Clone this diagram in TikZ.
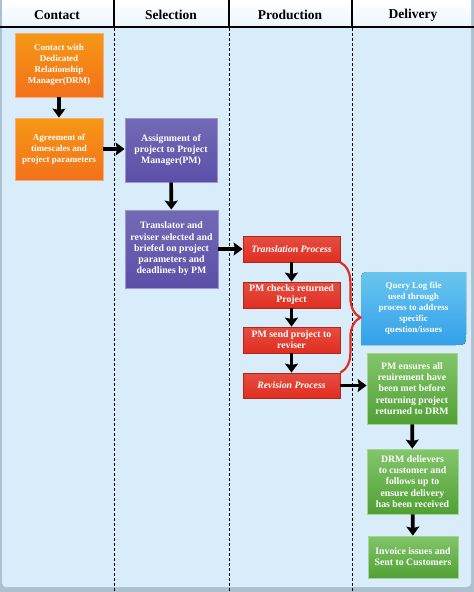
\documentclass[tikz,border=0pt]{standalone}
\usepackage{fontspec}
\setmainfont{Liberation Serif}
\usetikzlibrary{arrows.meta,shapes,decorations.pathreplacing}
\usepackage{xcolor}
\definecolor{laneblue}{RGB}{216,236,249}
\definecolor{headblue}{RGB}{236,245,252}
\definecolor{frameblue}{RGB}{172,192,208}
\definecolor{wforange}{RGB}{242,118,28}
\definecolor{wfpurple}{RGB}{90,80,168}
\definecolor{wfred}{RGB}{224,46,32}
\definecolor{wfgreen}{RGB}{90,178,58}
\definecolor{wfcyan}{RGB}{56,178,232}
\tikzstyle{arrow} = [line width=3.6pt,-{Stealth[length=9pt,width=13pt,inset=1.5pt]},color=black]

\begin{document}
\begin{tikzpicture}[x=1pt,y=-1pt,
    box/.style={rectangle, draw, line width=0.8pt, align=center, text=white, inner sep=2pt,
        font=\fontsize{9.8}{11.2}\selectfont\bfseries},
    small/.style={font=\fontsize{9}{11}\selectfont\bfseries},
    orangebox/.style={box, small, draw=wforange!60!white, top color=wforange!75!yellow, bottom color=wforange!95!red},
    purplebox/.style={box, draw=wfpurple!60!white, top color=wfpurple!85!white, bottom color=wfpurple},
    redbox/.style={box, draw=wfred!80!black, top color=wfred!85!white, bottom color=wfred,
        minimum width=97pt, minimum height=26pt},
    greenbox/.style={box, draw=wfgreen!55!white, top color=wfgreen!75!white, bottom color=wfgreen!90!black},
    head/.style={font=\fontsize{13.5}{16}\selectfont\bfseries},
    lane/.style={line width=1pt, dash pattern=on 3pt off 2pt}
]
\useasboundingbox (0,0) rectangle (474,592);
% Background and lane headers
\fill[frameblue] (0,0) rectangle (474,592);
\fill[laneblue, rounded corners=4pt] (2,-6) rectangle (471,587);
\fill[top color=white, bottom color=headblue] (2,0) rectangle (471,27);
\draw[line width=1.5pt] (0,27) -- (474,27);
\foreach \x in {114,229,352} {
    \draw[line width=1.2pt] (\x,0) -- (\x,27);
    \draw[lane] (\x,28) -- (\x,592);
}
\node[head] (hcontact) at (57,15) {Contact};
\node[head] (hselect) at (171,15) {Selection};
\node[head] (hprod) at (290,15) {Production};
\node[head] (hdeliv) at (413,15) {Delivery};

% Contact
\node[orangebox, minimum width=88pt, minimum height=64pt] (contact) at (59,65)
    {Contact with\\Dedicated\\Relationship\\Manager(DRM)};
\node[orangebox, minimum width=88pt, minimum height=62pt] (agree) at (59,149)
    {Agreement of\\timescales and\\project parameters};

% Selection
\node[purplebox, minimum width=92pt, minimum height=64pt] (assign) at (171,150)
    {Assignment of\\project to Project\\Manager(PM)};
\node[purplebox, minimum width=93pt, minimum height=78pt] (transl) at (171.5,249)
    {Translator and\\reviser selected and\\briefed on project\\parameters and\\deadlines by PM};

% Production
\node[redbox] (tproc) at (291.5,249) {\itshape Translation Process};
\node[redbox] (check) at (291.5,295) {PM checks returned\\Project};
\node[redbox] (send) at (291.5,340) {PM send project to\\reviser};
\node[redbox, minimum height=25pt] (rproc) at (291.5,385.5) {\itshape Revision Process};

% Delivery
\fill[top color=wfcyan!75!white, bottom color=wfcyan!90!blue]
    (361,283) .. controls (361,272) .. (372,272) -- (466,272) -- (466,334)
    .. controls (466,345) .. (455,345) -- (361,345) -- cycle;
\node[box, small, draw=none, minimum width=105pt, minimum height=73pt] (query) at (413.5,308.5)
    {Query Log file\\used through\\process to address\\specific\\question/issues};
\node[greenbox, minimum width=90pt, minimum height=71pt] (ensure) at (412,388.5)
    {PM ensures all\\reuirement have\\been met before\\returning project\\returned to DRM};
\node[greenbox, minimum width=91pt, minimum height=65pt] (deliver) at (412.5,481.5)
    {DRM delievers\\to customer and\\follows up to\\ensure delivery\\has been received};
\node[greenbox, minimum width=90pt, minimum height=42pt] (invoice) at (413,557)
    {Invoice issues and\\Sent to Customers};

% Connectors
\draw[arrow] (contact) -- (agree);
\draw[arrow] (agree) -- (agree -| assign.west);
\draw[arrow] (assign) -- (transl);
\draw[arrow] (transl) -- (tproc);
\draw[arrow] (tproc) -- (check);
\draw[arrow] (check) -- (send);
\draw[arrow] (send) -- (rproc);
\draw[arrow] (rproc) -- (rproc -| ensure.west);
\draw[arrow] (ensure) -- (deliver);
\draw[arrow] (deliver) -- (invoice);
\draw[wfred, line width=2.2pt, decorate, decoration={brace, amplitude=20pt}]
    (tproc.south east) -- (rproc.north east);
\end{tikzpicture}
\end{document}
